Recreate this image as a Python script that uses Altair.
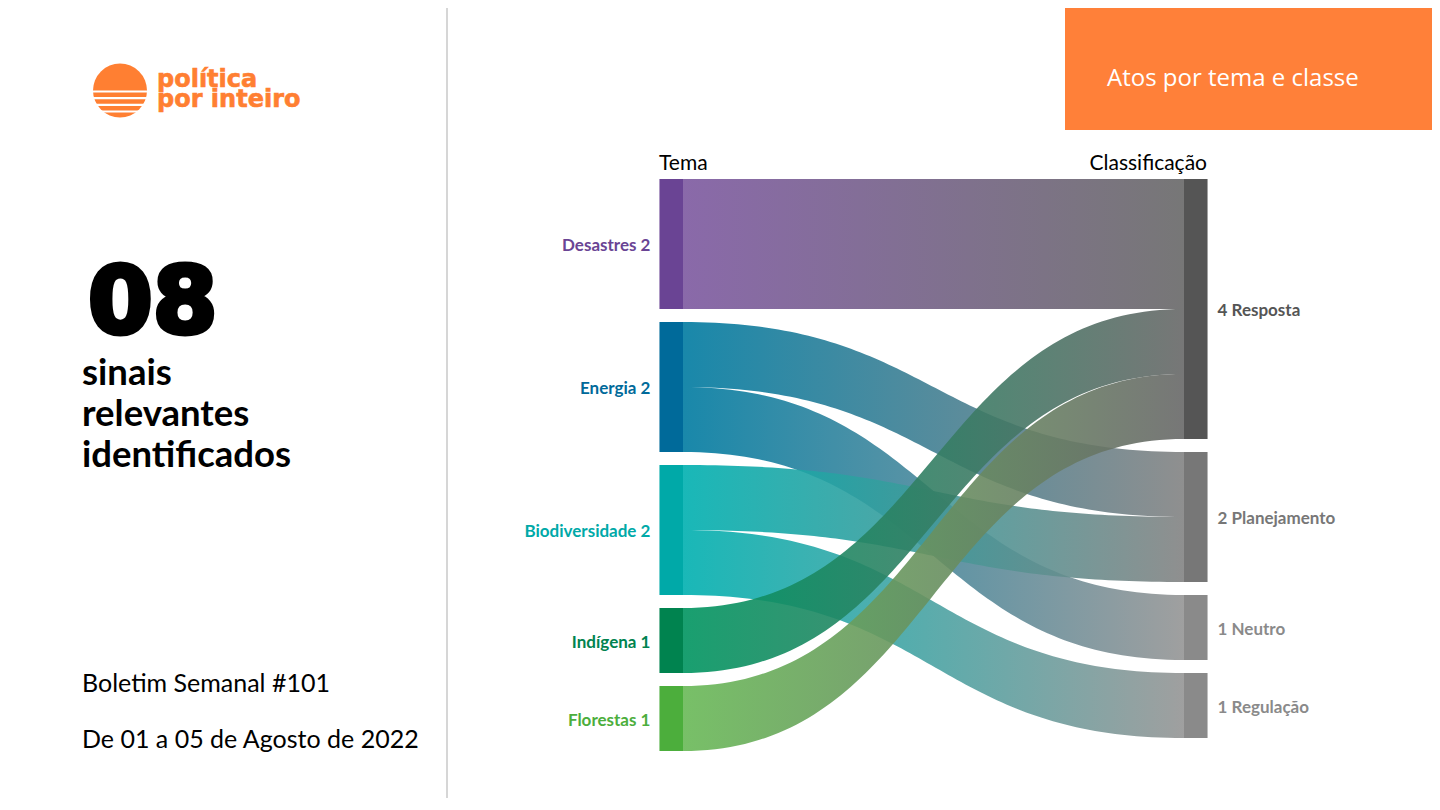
import altair as alt
import pandas as pd
import numpy as np

# ---------------- data ----------------
tema = ["Desastres", "Energia", "Biodiversidade", "Indígena", "Florestas"]
classe = ["Resposta", "Planejamento", "Neutro", "Regulação"]

link_from = ["Desastres", "Energia", "Energia", "Biodiversidade", "Biodiversidade", "Indígena", "Florestas"]
link_to = ["Resposta", "Planejamento", "Neutro", "Planejamento", "Regulação", "Resposta", "Resposta"]
link_value = [2, 1, 1, 1, 1, 1, 1]

tema_colors = ["#6a4494", "#006a9a", "#00a9a8", "#00834f", "#4cae3c"]
classe_colors = ["#555555", "#777777", "#8a8a8a", "#8a8a8a"]
tema_link_colors = ["#7d59a0", "#007ba1", "#00b0b0", "#009560", "#69b957"]
classe_link_colors = ["#686868", "#838383", "#959595", "#959595"]

headline_number = "08"
headline_lines = ["sinais", "relevantes", "identificados"]
bulletin = "Boletim Semanal #101"
period = "De 01 a 05 de Agosto de 2022"
panel_title = "Atos por tema e classe"
logo_lines = ["política", "por inteiro"]
col_titles = ["Tema", "Classificação"]

# ---------------- sankey layout ----------------
GAP = 0.2
NODE_W = 0.047
n_links = len(link_value)


def totals(names, ends):
    return {n: sum(v for e, v in zip(ends, link_value) if e == n) for n in names}


tot_L = totals(tema, link_from)
tot_R = totals(classe, link_to)


def positions(names, tot):
    pos, y = {}, 0.0
    for n in names:
        pos[n] = (y, y + tot[n])
        y += tot[n] + GAP
    return pos


pos_L = positions(tema, tot_L)
pos_R = positions(classe, tot_R)

y_src = [0.0] * n_links
off = {n: pos_L[n][0] for n in tema}
for i in sorted(range(n_links), key=lambda i: (tema.index(link_from[i]), classe.index(link_to[i]))):
    y_src[i] = off[link_from[i]]
    off[link_from[i]] += link_value[i]

y_tgt = [0.0] * n_links
off = {n: pos_R[n][0] for n in classe}
for i in sorted(range(n_links), key=lambda i: (classe.index(link_to[i]), tema.index(link_from[i]))):
    y_tgt[i] = off[link_to[i]]
    off[link_to[i]] += link_value[i]

xscale = alt.Scale(domain=[0, 1], range=[675, 1176], nice=False, zero=False)
yscale = alt.Scale(domain=[0, 8.8], range=[171, 743], nice=False, zero=False)

s = np.linspace(0, 1, 90)
bx = 1.5 * s - 1.5 * s ** 2 + s ** 3
bf = 3 * s ** 2 - 2 * s ** 3

layers = []

# decorations (background)
one = alt.Data(values=[{"k": 1}])
layers.append(alt.Chart(one).mark_rule(color="#c9c9c9", strokeWidth=1.5).encode(
    x=alt.value(439), y=alt.value(0), y2=alt.value(790)))
layers.append(alt.Chart(one).mark_rect(color="#ff8039").encode(
    x=alt.value(1057), x2=alt.value(1424), y=alt.value(0), y2=alt.value(122)))
layers.append(alt.Chart(one).mark_text(font="Open Sans", fontSize=24, color="white",
                                       align="left", baseline="alphabetic").encode(
    x=alt.value(1099), y=alt.value(78), text=alt.value(panel_title)))

# logo
layers.append(alt.Chart(one).mark_point(shape="circle", filled=True, size=2916,
                                        color="#ff7f32", opacity=1).encode(
    x=alt.value(112), y=alt.value(82.5)))
for yy in [83.5, 90.2, 96.8, 103.5]:
    layers.append(alt.Chart(one).mark_rule(color="white", strokeWidth=2.2).encode(
        x=alt.value(80), x2=alt.value(144), y=alt.value(yy)))
for txt, yy in zip(logo_lines, [79, 99]):
    layers.append(alt.Chart(one).mark_text(font="DejaVu Sans", fontWeight="bold", fontSize=24,
                                           color="#ff7f32", stroke="#ff7f32", strokeWidth=0.6,
                                           align="left", baseline="alphabetic").encode(
        x=alt.value(149), y=alt.value(yy), text=alt.value(txt)))

# left panel texts
layers.append(alt.Chart(one).mark_text(font="DejaVu Sans", fontWeight="bold", fontSize=93,
                                       color="black", stroke="black", strokeWidth=5,
                                       align="left", baseline="alphabetic").encode(
    x=alt.value(80), y=alt.value(325), text=alt.value(headline_number)))
for txt, yy in zip(headline_lines, [377, 418, 459]):
    layers.append(alt.Chart(one).mark_text(font="Lato", fontWeight="bold", fontSize=36.5,
                                           color="black", align="left",
                                           baseline="alphabetic").encode(
        x=alt.value(74), y=alt.value(yy), text=alt.value(txt)))
for txt, yy in zip([bulletin, period], [684, 740]):
    layers.append(alt.Chart(one).mark_text(font="Lato", fontSize=25, color="black",
                                           align="left", baseline="alphabetic").encode(
        x=alt.value(74), y=alt.value(yy), text=alt.value(txt)))

# column titles
layers.append(alt.Chart(one).mark_text(font="Lato", fontSize=21, color="black",
                                       align="left", baseline="alphabetic").encode(
    x=alt.value(651), y=alt.value(162), text=alt.value(col_titles[0])))
layers.append(alt.Chart(one).mark_text(font="Lato", fontSize=21, color="black",
                                       align="right", baseline="alphabetic").encode(
    x=alt.value(1199), y=alt.value(162), text=alt.value(col_titles[1])))

# links
for i in range(n_links):
    top = y_src[i] + (y_tgt[i] - y_src[i]) * bf
    df = pd.DataFrame({"x": bx, "y": top, "y2": top + link_value[i]})
    c0 = tema_link_colors[tema.index(link_from[i])]
    c1 = classe_link_colors[classe.index(link_to[i])]
    grad = alt.Gradient(gradient="linear",
                        stops=[alt.GradientStop(color=c0, offset=0),
                               alt.GradientStop(color=c1, offset=1)],
                        x1=0, x2=1, y1=0, y2=0)
    layers.append(alt.Chart(df).mark_area(color=grad, fillOpacity=0.9).encode(
        x=alt.X("x:Q", scale=xscale, axis=None),
        y=alt.Y("y:Q", scale=yscale, axis=None),
        y2="y2:Q"))

# nodes
rows = []
for n in tema:
    rows.append({"name": n, "label": f"{n} {tot_L[n]}", "x0": -NODE_W, "x1": 0.0,
                 "y0": pos_L[n][0], "y1": pos_L[n][1], "ym": sum(pos_L[n]) / 2, "side": "L"})
for n in classe:
    rows.append({"name": n, "label": f"{tot_R[n]} {n}", "x0": 1.0, "x1": 1.0 + NODE_W,
                 "y0": pos_R[n][0], "y1": pos_R[n][1], "ym": sum(pos_R[n]) / 2, "side": "R"})
nodes = pd.DataFrame(rows)
color_enc = alt.Color("name:N", scale=alt.Scale(domain=tema + classe,
                                                range=tema_colors + classe_colors),
                      legend=None)

layers.append(alt.Chart(nodes).mark_rect(opacity=1).encode(
    x=alt.X("x0:Q", scale=xscale, axis=None), x2="x1:Q",
    y=alt.Y("y0:Q", scale=yscale, axis=None), y2="y1:Q",
    color=color_enc))

layers.append(alt.Chart(nodes[nodes.side == "L"]).mark_text(
    font="Lato", fontWeight="bold", fontSize=17, align="right", baseline="middle",
    dx=-9, dy=2).encode(
    x=alt.X("x0:Q", scale=xscale, axis=None),
    y=alt.Y("ym:Q", scale=yscale, axis=None),
    text="label:N", color=color_enc))
layers.append(alt.Chart(nodes[nodes.side == "R"]).mark_text(
    font="Lato", fontWeight="bold", fontSize=17, align="left", baseline="middle",
    dx=10, dy=2).encode(
    x=alt.X("x1:Q", scale=xscale, axis=None),
    y=alt.Y("ym:Q", scale=yscale, axis=None),
    text="label:N", color=color_enc))

chart = alt.layer(*layers).properties(
    width=1424, height=790, padding=0,
    autosize=alt.AutoSizeParams(type="none"),
    background="white",
).configure_view(strokeWidth=0)

chart.save("out.html", embed_options={"renderer": "svg", "actions": False})
